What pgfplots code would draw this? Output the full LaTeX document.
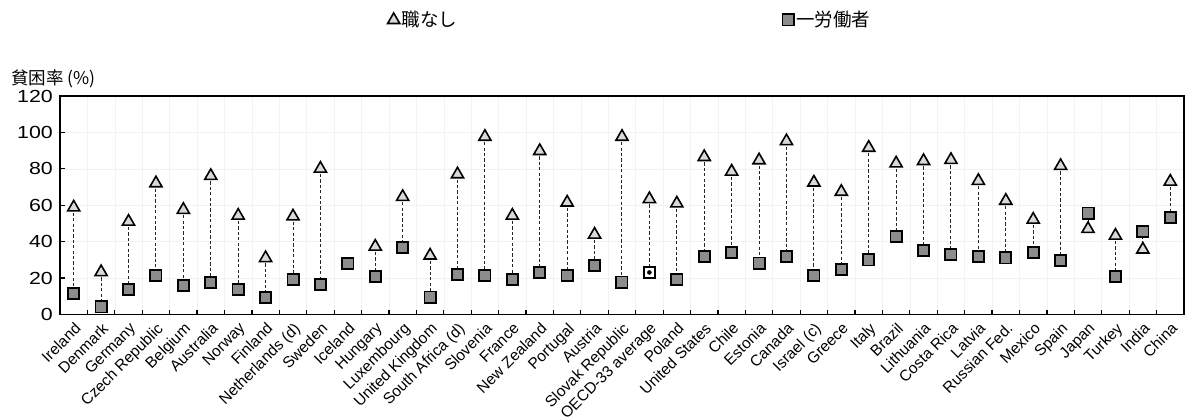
\documentclass[border=0pt]{standalone}
\usepackage{pgfplots}
\usepackage{pgfplotstable}
\pgfplotsset{compat=1.18}
\usepackage{fontspec}
\setmainfont{Liberation Sans}
\newfontfamily\jp{Noto Sans CJK JP}
\newfontfamily\tickfont[FakeStretch=1.22]{Liberation Sans}
\definecolor{sqfill}{HTML}{8C8C8C}
\definecolor{trfill}{HTML}{D9D9D9}

\pgfplotstableread{
i tri sq err
0 58.8 11.5 47.3
1 23.3 4.2 19.1
2 51.0 13.7 37.3
3 72.1 21.5 50.6
4 57.5 16.0 41.5
5 76.1 17.5 58.6
6 54.3 13.8 40.5
7 31.0 9.3 21.7
8 53.9 19.3 34.6
9 80.1 16.6 63.5
10 nan 27.9 0
11 37.3 20.9 16.4
12 64.6 36.8 27.8
13 32.4 9.6 22.8
14 77.0 21.9 55.1
15 97.6 21.5 76.1
16 54.3 19.3 35.0
17 89.8 23.0 66.8
18 61.5 21.5 40.0
19 43.9 26.9 17.0
20 97.6 17.8 79.8
21 63.4 23.1 40.3
22 61.0 19.1 41.9
23 86.5 32.0 54.5
24 78.5 34.2 44.3
25 84.7 28.2 56.5
26 95.2 32.0 63.2
27 72.5 21.5 51.0
28 67.4 24.8 42.6
29 91.6 30.0 61.6
30 83.0 42.8 40.2
31 84.3 35.1 49.2
32 84.9 32.8 52.1
33 73.4 31.9 41.5
34 62.5 31.1 31.4
35 52.1 34.2 17.9
36 81.6 29.7 51.9
37 47.0 55.7 -8.7
38 43.3 20.9 22.4
39 35.7 45.5 -9.8
40 73.0 53.3 19.7
}\data

\begin{document}
\begin{tikzpicture}
\useasboundingbox (0,0) rectangle (1185pt,416pt);
\begin{axis}[
  at={(60pt,101.5pt)}, anchor=south west,
  scale only axis, width=1124pt, height=218.5pt,
  xmin=-0.5, xmax=40.5, ymin=0, ymax=120,
  xtick={0,...,40},
  xticklabels={Ireland,Denmark,Germany,Czech Republic,Belgium,Australia,Norway,Finland,Netherlands (d),Sweden,Iceland,Hungary,Luxembourg,United Kingdom,South Africa (d),Slovenia,France,New Zealand,Portugal,Austria,Slovak Republic,OECD-33 average,Poland,United States,Chile,Estonia,Canada,Israel (c),Greece,Italy,Brazil,Lithuania,Costa Rica,Latvia,Russian Fed.,Mexico,Spain,Japan,Turkey,India,China},
  minor xtick={0.5,1.5,...,39.5},
  ytick={0,20,...,120},
  tick pos=left,
  tick align=inside,
  major x tick style={draw=none},
  minor tick length=5pt,
  major tick length=5pt,
  tick style={black, line width=1.2pt},
  axis line style={line width=1.8pt},
  ymajorgrids, xminorgrids,
  major grid style={gray!10, line width=0.6pt},
  minor grid style={gray!10, line width=0.6pt},
  xticklabel style={rotate=45, anchor=north east, inner sep=5pt, font=\fontsize{15.5}{16}\selectfont},
  yticklabel style={font=\tickfont\fontsize{17.5}{18}\selectfont, inner sep=1pt, xshift=-6pt},
  /pgf/number format/assume math mode=true,
  legend columns=2,
  legend style={draw=none, fill=none, at={(rel axis cs:0.2903,1.348)}, anchor=west,
    inner sep=0pt, nodes={inner sep=1pt}, font=\jp\fontsize{18.5}{19}\selectfont,
    /tikz/every even column/.append style={column sep=322.5pt}},
  legend image code/.code={\path (-7pt,0pt) (7pt,0pt); \draw[#1] plot coordinates {(0pt,0pt)};},
]
\addplot[only marks, mark=none, forget plot,
  error bars/.cd, y dir=minus, y explicit,
  error bar style={draw=black!85, line width=1pt, dash pattern=on 3.2pt off 2.2pt},
  error mark=none]
  table[x=i, y=tri, y error minus=err] {\data};
\addplot[only marks, mark=triangle*, mark size=7pt,
  mark options={fill=trfill, draw=black, line width=1.6pt}]
  table[x=i, y=tri] {\data};
\addlegendentry{職なし}
\addplot[only marks, mark=square*, mark size=5.6pt,
  mark options={fill=sqfill, draw=black, line width=1.8pt}]
  table[x=i, y=sq] {\data};
\addlegendentry{一労働者}
\addplot[only marks, mark=square*, mark size=5.6pt, forget plot,
  mark options={fill=white, draw=black, line width=1.8pt}]
  coordinates {(21,23.1)};
\addplot[only marks, mark=*, mark size=2pt, forget plot,
  mark options={fill=black, draw=black}]
  coordinates {(21,23.1)};
\end{axis}
\node[anchor=base west, font=\jp\fontsize{17.5}{17.5}\selectfont, inner sep=0pt] at (11pt,332pt) {貧困率 (\%)};
\end{tikzpicture}
\end{document}
